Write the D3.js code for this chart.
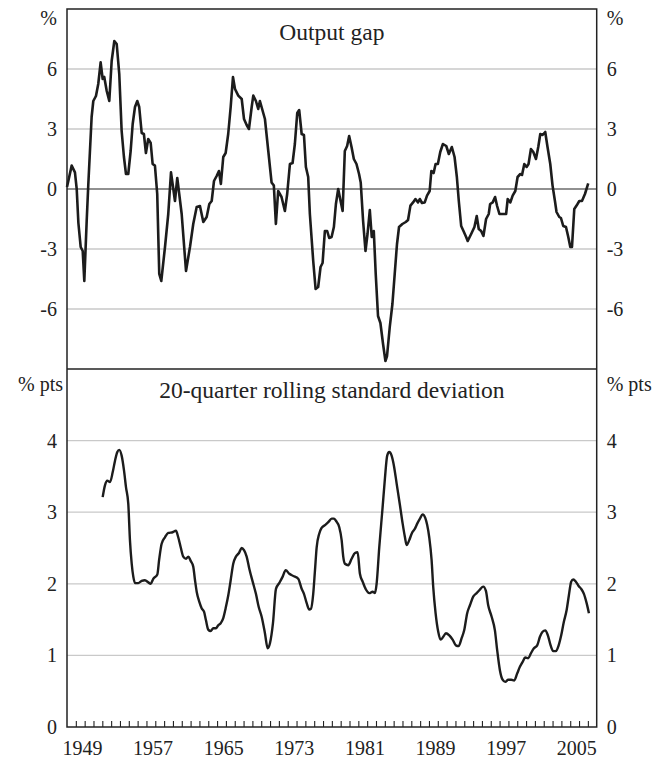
<!DOCTYPE html>
<html>
<head>
<meta charset="utf-8">
<script src="https://cdn.jsdelivr.net/npm/d3@7"></script>
<style>
  html, body { margin: 0; padding: 0; background: #fff; }
  svg text { font-family: "Liberation Serif", "Times New Roman", serif; fill: #222; }
</style>
</head>
<body>
<svg id="chart" width="657" height="759"></svg>
<script>
// Output gap, % (decimal-year dates and values)
const gapDates = [
  1948.0, 1948.53, 1948.9, 1949.1, 1949.29, 1949.55, 1949.78, 1949.96, 1950.23, 1950.41,
  1950.79, 1950.98, 1951.28, 1951.54, 1951.81, 1952.04, 1952.22, 1952.5, 1952.79, 1953.06,
  1953.36, 1953.63, 1953.92, 1954.19, 1954.45, 1954.68, 1954.94, 1955.21, 1955.44, 1955.7,
  1955.96, 1956.18, 1956.46, 1956.71, 1956.94, 1957.2, 1957.48, 1957.7, 1957.96, 1958.22,
  1958.45, 1958.68, 1959.1, 1959.47, 1959.78, 1960.23, 1960.49, 1960.99, 1961.48, 1961.93,
  1962.3, 1962.69, 1963.06, 1963.44, 1963.82, 1964.12, 1964.39, 1964.65, 1964.95, 1965.21,
  1965.43, 1965.7, 1965.97, 1966.26, 1966.54, 1966.8, 1967.03, 1967.4, 1967.79, 1968.05,
  1968.35, 1968.61, 1968.92, 1969.1, 1969.4, 1969.66, 1969.85, 1970.42, 1970.8, 1971.17,
  1971.43, 1971.66, 1971.92, 1972.3, 1972.68, 1972.94, 1973.25, 1973.55, 1973.81, 1974.08,
  1974.3, 1974.58, 1974.84, 1975.06, 1975.32, 1975.51, 1975.89, 1976.16, 1976.45, 1976.72,
  1976.95, 1977.21, 1977.47, 1977.7, 1977.97, 1978.23, 1978.46, 1978.72, 1978.99, 1979.22,
  1979.47, 1979.73, 1979.96, 1980.23, 1980.49, 1980.79, 1981.08, 1981.27, 1981.54, 1981.81,
  1982.04, 1982.3, 1982.52, 1982.75, 1982.97, 1983.23, 1983.5, 1983.8, 1984.07, 1984.25,
  1984.56, 1984.86, 1985.12, 1985.38, 1985.61, 1985.99, 1986.37, 1986.63, 1986.9, 1987.2,
  1987.47, 1987.76, 1987.96, 1988.21, 1988.52, 1988.78, 1989.08, 1989.27, 1989.53, 1989.75,
  1990.01, 1990.28, 1990.58, 1990.96, 1991.25, 1991.59, 1991.9, 1992.16, 1992.38, 1992.65,
  1992.91, 1993.21, 1993.39, 1993.78, 1994.15, 1994.41, 1994.64, 1994.91, 1995.17, 1995.47,
  1995.77, 1995.93, 1996.22, 1996.49, 1996.72, 1996.98, 1997.35, 1997.74, 1997.92, 1998.22,
  1998.48, 1998.78, 1999.04, 1999.35, 1999.54, 1999.8, 2000.06, 2000.28, 2000.55, 2000.82,
  2001.12, 2001.38, 2001.61, 2001.87, 2002.17, 2002.43, 2002.74, 2003.0, 2003.27, 2003.45,
  2003.76, 2003.95, 2004.21, 2004.52, 2004.78, 2005.01, 2005.2, 2005.46, 2005.72, 2006.03,
  2006.33, 2006.67, 2007.04
];
const gapValues = [
  0.1, 1.17, 0.83, 0.0, -1.7, -2.9, -3.1, -4.6, -1.6, 0.2,
  3.6, 4.4, 4.65, 5.25, 6.33, 5.5, 5.6, 4.9, 4.4, 6.4,
  7.4, 7.25, 5.75, 2.9, 1.6, 0.75, 0.75, 1.9, 3.25, 4.1,
  4.4, 4.1, 2.8, 2.75, 1.8, 2.5, 2.3, 1.25, 1.17, -0.25,
  -4.25, -4.6, -2.9, -1.25, 0.83, -0.6, 0.55, -1.25, -4.1, -2.9,
  -1.75, -0.9, -0.85, -1.65, -1.4, -0.75, -0.6, 0.4, 0.65, 0.9,
  0.25, 1.6, 1.8, 2.75, 4.1, 5.6, 5.0, 4.67, 4.5, 3.5,
  3.2, 3.0, 4.1, 4.67, 4.4, 4.0, 4.4, 3.5, 1.9, 0.33,
  0.17, -1.75, -0.1, -0.4, -1.1, -0.25, 1.25, 1.3, 2.25, 3.8,
  3.95, 2.75, 2.7, 1.1, 0.6, -1.25, -3.6, -5.0, -4.9, -3.9,
  -3.7, -2.1, -2.1, -2.45, -2.4, -1.9, -0.75, 0.0, -0.6, -1.1,
  1.9, 2.15, 2.65, 2.1, 1.5, 1.25, 0.75, 0.33, -1.6, -3.1,
  -2.25, -1.05, -2.4, -2.1, -4.25, -6.35, -6.7, -7.75, -8.6, -8.35,
  -6.9, -5.75, -4.25, -2.75, -1.9, -1.75, -1.65, -1.55, -0.83, -0.67,
  -0.5, -0.67, -0.5, -0.7, -0.67, -0.33, -0.1, 0.9, 0.8, 1.25,
  1.25, 1.85, 2.25, 2.15, 1.75, 2.1, 1.6, 0.6, -0.6, -1.85,
  -2.1, -2.4, -2.6, -2.25, -1.9, -1.35, -2.0, -2.1, -2.35, -1.5,
  -1.25, -0.75, -0.67, -0.4, -0.85, -1.25, -1.25, -1.25, -0.5, -0.67,
  -0.33, -0.1, 0.6, 0.75, 0.7, 1.25, 1.1, 1.25, 2.0, 1.85,
  1.5, 2.1, 2.75, 2.7, 2.85, 2.1, 1.25, 0.17, -0.6, -1.15,
  -1.4, -1.45, -1.85, -1.9, -2.4, -2.9, -2.9, -1.0, -0.83, -0.6,
  -0.6, -0.25, 0.28
];

// 20-quarter rolling standard deviation of the output gap, % pts
const sdDates = [
  1952.04, 1952.3, 1952.56, 1952.87, 1953.18, 1953.44, 1953.7, 1953.92, 1954.19, 1954.46,
  1954.68, 1954.94, 1955.13, 1955.33, 1955.51, 1955.7, 1956.07, 1956.46, 1956.83, 1957.21,
  1957.48, 1957.77, 1958.23, 1958.45, 1958.72, 1959.1, 1959.47, 1959.97, 1960.34, 1960.6,
  1960.88, 1961.17, 1961.48, 1961.74, 1962.01, 1962.3, 1962.5, 1962.69, 1962.98, 1963.25,
  1963.52, 1963.74, 1964.0, 1964.27, 1964.57, 1964.87, 1965.13, 1965.41, 1965.7, 1965.97,
  1966.27, 1966.54, 1966.83, 1967.14, 1967.48, 1967.78, 1968.05, 1968.35, 1968.65, 1969.03,
  1969.4, 1969.71, 1970.05, 1970.42, 1970.73, 1970.99, 1971.33, 1971.67, 1972.04, 1972.43,
  1972.77, 1973.18, 1973.63, 1974.19, 1974.58, 1974.84, 1975.15, 1975.44, 1975.63, 1975.89,
  1976.09, 1976.28, 1976.57, 1976.84, 1977.22, 1977.59, 1977.98, 1978.24, 1978.46, 1978.84,
  1979.11, 1979.29, 1979.48, 1979.86, 1980.24, 1980.62, 1980.92, 1981.18, 1981.49, 1981.86,
  1982.24, 1982.62, 1982.88, 1983.07, 1983.37, 1983.75, 1984.01, 1984.27, 1984.5, 1984.77,
  1985.03, 1985.34, 1985.71, 1986.02, 1986.28, 1986.47, 1986.77, 1987.04, 1987.41, 1987.67,
  1987.98, 1988.28, 1988.58, 1988.8, 1989.03, 1989.3, 1989.48, 1989.75, 1990.05, 1990.32,
  1990.62, 1990.92, 1991.3, 1991.68, 1992.05, 1992.36, 1992.7, 1992.99, 1993.33, 1993.64,
  1994.01, 1994.4, 1994.77, 1995.15, 1995.45, 1995.71, 1996.1, 1996.47, 1996.73, 1997.04,
  1997.34, 1997.64, 1997.98, 1998.32, 1998.66, 1999.0, 1999.3, 1999.61, 1999.9, 2000.24,
  2000.55, 2000.89, 2001.26, 2001.57, 2001.87, 2002.17, 2002.47, 2002.78, 2003.07, 2003.38,
  2003.69, 2003.98, 2004.28, 2004.59, 2004.85, 2005.11, 2005.34, 2005.64, 2005.95, 2006.24,
  2006.55, 2006.86, 2007.12
];
const sdValues = [
  3.21, 3.375, 3.44, 3.42, 3.56, 3.72, 3.84, 3.87, 3.79, 3.58,
  3.35, 3.12, 2.61, 2.28, 2.1, 2.01, 2.01, 2.04, 2.05, 2.02,
  2.0, 2.07, 2.13, 2.35, 2.56, 2.65, 2.71, 2.72, 2.74, 2.65,
  2.51, 2.38, 2.35, 2.38, 2.32, 2.24, 2.05, 1.89, 1.75, 1.66,
  1.61, 1.49, 1.36, 1.34, 1.38, 1.38, 1.42, 1.45, 1.52, 1.66,
  1.84, 2.05, 2.28, 2.38, 2.43, 2.5, 2.47, 2.38, 2.21, 2.03,
  1.86, 1.68, 1.54, 1.31, 1.1, 1.17, 1.45, 1.93, 2.01, 2.1,
  2.19, 2.14, 2.11, 2.07, 1.93, 1.86, 1.73, 1.64, 1.65, 1.86,
  2.19, 2.51, 2.7, 2.78, 2.82, 2.86, 2.91, 2.91, 2.88, 2.79,
  2.61, 2.38, 2.28, 2.26, 2.35, 2.43, 2.44, 2.14, 2.03, 1.92,
  1.87, 1.89, 1.87, 2.0, 2.51, 3.07, 3.47, 3.79, 3.84, 3.79,
  3.65, 3.4, 3.1, 2.84, 2.65, 2.54, 2.61, 2.7, 2.77, 2.84,
  2.91, 2.97, 2.92, 2.82, 2.65, 2.33, 1.96, 1.59, 1.33, 1.22,
  1.26, 1.31, 1.28, 1.22, 1.14, 1.13, 1.24, 1.35, 1.59, 1.7,
  1.82, 1.87, 1.92, 1.96, 1.9, 1.7, 1.54, 1.35, 1.07, 0.79,
  0.66, 0.63, 0.66, 0.66, 0.65, 0.75, 0.84, 0.91, 0.97, 0.96,
  1.03, 1.1, 1.14, 1.26, 1.33, 1.35, 1.28, 1.14, 1.06, 1.06,
  1.14, 1.28, 1.47, 1.63, 1.84, 2.03, 2.06, 2.03, 1.97, 1.93,
  1.86, 1.73, 1.59
];

const gapTicks = [-6, -3, 0, 3, 6];
const gapGrid = [-6, -3, 3, 6];
const sdTicks = [0, 1, 2, 3, 4];
const sdGrid = [1, 2, 3, 4];
const yearLabels = [1949, 1957, 1965, 1973, 1981, 1989, 1997, 2005];
const yearTicks = d3.range(1949, 2008);

const topTitle = "Output gap";
const bottomTitle = "20-quarter rolling standard deviation";

const svg = d3.select("#chart");
const W = 657, H = 759;
const L = 67, R = 596.7;
const topY0 = 9, midY = 369, botY = 727;

svg.append("rect").attr("width", W).attr("height", H).attr("fill", "#fff");

const x = d3.scaleLinear().domain([1948, 2008]).range([L, R]);
const yTop = d3.scaleLinear().domain([-9, 9]).range([midY, topY0]);
const yBot = d3.scaleLinear().domain([0, 5]).range([botY, midY]);

const gridColor = "#c9c9c9";
const inkColor = "#222";

// Gridlines
svg.append("g").selectAll("line").data(gapGrid).join("line")
  .attr("x1", L).attr("x2", R)
  .attr("y1", d => yTop(d)).attr("y2", d => yTop(d))
  .attr("stroke", gridColor).attr("stroke-width", 1.3);
svg.append("g").selectAll("line").data(sdGrid).join("line")
  .attr("x1", L).attr("x2", R)
  .attr("y1", d => yBot(d)).attr("y2", d => yBot(d))
  .attr("stroke", gridColor).attr("stroke-width", 1.3);

// Zero line in the output gap panel
svg.append("line")
  .attr("x1", L).attr("x2", R)
  .attr("y1", yTop(0)).attr("y2", yTop(0))
  .attr("stroke", inkColor).attr("stroke-width", 1.2);

// Series
const gapLine = d3.line().x((d, i) => x(gapDates[i])).y(d => yTop(d));
svg.append("path").datum(gapValues)
  .attr("d", gapLine)
  .attr("fill", "none").attr("stroke", "#1c1c1c")
  .attr("stroke-width", 2.6).attr("stroke-linejoin", "round");

const sdLine = d3.line().x((d, i) => x(sdDates[i])).y(d => yBot(d)).curve(d3.curveMonotoneX);
svg.append("path").datum(sdValues)
  .attr("d", sdLine)
  .attr("fill", "none").attr("stroke", "#1c1c1c")
  .attr("stroke-width", 2.4).attr("stroke-linejoin", "round");

// Frame and panel divider
svg.append("rect")
  .attr("x", L).attr("y", topY0).attr("width", R - L).attr("height", botY - topY0)
  .attr("fill", "none").attr("stroke", inkColor).attr("stroke-width", 1.5);
svg.append("line")
  .attr("x1", L).attr("x2", R).attr("y1", midY).attr("y2", midY)
  .attr("stroke", inkColor).attr("stroke-width", 1.5);

const fs = 20;
const titleFs = 23.5;

// Y axes (labels only)
function labelAxis(axis, tx) {
  const g = svg.append("g").attr("transform", `translate(${tx},0)`).call(axis);
  g.select(".domain").remove();
  g.selectAll(".tick line").remove();
  g.selectAll("text").attr("font-size", fs).attr("font-family", null).attr("fill", inkColor);
  return g;
}
const fmt = d => String(d);
labelAxis(d3.axisLeft(yTop).tickValues(gapTicks).tickSize(0).tickPadding(10).tickFormat(fmt), L);
labelAxis(d3.axisRight(yTop).tickValues(gapTicks).tickSize(0).tickPadding(10).tickFormat(fmt), R);
labelAxis(d3.axisLeft(yBot).tickValues(sdTicks).tickSize(0).tickPadding(10).tickFormat(fmt), L);
labelAxis(d3.axisRight(yBot).tickValues(sdTicks).tickSize(0).tickPadding(10).tickFormat(fmt), R);

// X axis: yearly ticks pointing into the plot
const xAxis = svg.append("g").attr("transform", `translate(0,${botY})`)
  .call(d3.axisBottom(x).tickValues(yearTicks).tickSize(-6).tickFormat(""));
xAxis.select(".domain").remove();
xAxis.selectAll(".tick line").attr("stroke", inkColor).attr("stroke-width", 1.1);

svg.append("g").selectAll("text").data(yearLabels).join("text")
  .attr("x", d => x(d + 0.75)).attr("y", 755)
  .attr("text-anchor", "middle").attr("font-size", fs)
  .text(d => d);

// Units
svg.append("text").attr("x", L - 10).attr("y", 25).attr("text-anchor", "end")
  .attr("font-size", fs).text("%");
svg.append("text").attr("x", R + 10).attr("y", 25).attr("text-anchor", "start")
  .attr("font-size", fs).text("%");
svg.append("text").attr("x", L - 4).attr("y", 391).attr("text-anchor", "end")
  .attr("font-size", fs).text("% pts");
svg.append("text").attr("x", R + 10).attr("y", 391).attr("text-anchor", "start")
  .attr("font-size", fs).text("% pts");

// Panel titles
svg.append("text").attr("x", (L + R) / 2).attr("y", 39.5).attr("text-anchor", "middle")
  .attr("font-size", titleFs).text(topTitle);
svg.append("text").attr("x", (L + R) / 2).attr("y", 398).attr("text-anchor", "middle")
  .attr("font-size", titleFs).text(bottomTitle);
</script>
</body>
</html>
